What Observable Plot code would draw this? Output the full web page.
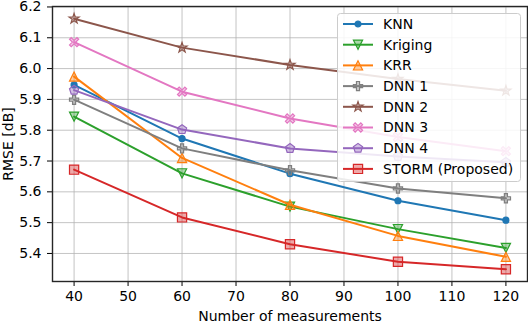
<!DOCTYPE html>
<html><head><meta charset="utf-8">
<script src="https://cdn.jsdelivr.net/npm/d3@7"></script>
<script src="https://cdn.jsdelivr.net/npm/@observablehq/plot@0.6"></script>
<style>body{margin:0;background:#fff} svg{display:block}</style>
</head><body><div id="chart"></div>
<script>
const measurements = [40, 60, 80, 100, 120];
const seriesNames = ["KNN","Kriging","KRR","DNN 1","DNN 2","DNN 3","DNN 4","STORM (Proposed)"];
const knn     = [5.947, 5.773, 5.659, 5.571, 5.508];
const kriging = [5.844, 5.660, 5.552, 5.479, 5.418];
const krr     = [5.974, 5.710, 5.558, 5.457, 5.389];
const dnn1    = [5.899, 5.741, 5.670, 5.611, 5.579];
const dnn2    = [6.162, 6.068, 6.012, 5.966, 5.928];
const dnn3    = [6.086, 5.925, 5.838, 5.778, 5.732];
const dnn4    = [5.930, 5.802, 5.741, 5.715, 5.696];
const storm   = [5.672, 5.517, 5.430, 5.373, 5.349];
const xTicks = [40,50,60,70,80,90,100,110,120];
const yTicks = [5.4,5.5,5.6,5.7,5.8,5.9,6.0,6.1,6.2];
const colors = ["#1f77b4","#2ca02c","#ff7f0e","#7f7f7f","#8c564b","#e377c2","#9467bd","#d62728"];
const values = [knn, kriging, krr, dnn1, dnn2, dnn3, dnn4, storm];

function poly(pts){
  return { draw(ctx, size){
    const h = Math.sqrt(size/Math.PI);
    pts.forEach(([x,y],i)=> i ? ctx.lineTo(x*h,y*h) : ctx.moveTo(x*h,y*h));
    ctx.closePath();
  }};
}
const t = 1/3;
const plusPts = [[-t,-1],[t,-1],[t,-t],[1,-t],[1,t],[t,t],[t,1],[-t,1],[-t,t],[-1,t],[-1,-t],[-t,-t]];
const rot = (pts, a, s) => pts.map(([x,y]) => [s*(x*Math.cos(a)-y*Math.sin(a)), s*(x*Math.sin(a)+y*Math.cos(a))]);
const starPts = d3.range(10).map(i => { const r = i%2 ? 0.45 : 1.15; const a = -Math.PI/2 + i*Math.PI/5; return [r*Math.cos(a), r*Math.sin(a)]; });
const pentPts = d3.range(5).map(i => { const a = -Math.PI/2 + i*2*Math.PI/5; return [1.05*Math.cos(a), 1.05*Math.sin(a)]; });
const xPts = rot([[-0.28,-1.2],[0.28,-1.2],[0.28,-0.28],[1.2,-0.28],[1.2,0.28],[0.28,0.28],[0.28,1.2],[-0.28,1.2],[-0.28,0.28],[-1.2,0.28],[-1.2,-0.28],[-0.28,-0.28]], Math.PI/4, 0.95);
const symbols = [
  d3.symbolCircle,
  poly([[0,1],[-1,-1],[1,-1]]),
  poly([[0,-1],[-1,1],[1,1]]),
  poly(plusPts),
  poly(starPts),
  poly(xPts),
  poly(pentPts),
  poly([[-1,-1],[1,-1],[1,1],[-1,1]])
];
const radii = [3, 4.6, 4.6, 4.6, 4.6, 4.6, 4.6, 4.6];

const marks = [
  Plot.gridX(xTicks, {stroke:"#b0b0b0", strokeOpacity:0.75, strokeWidth:1}),
  Plot.gridY(yTicks, {stroke:"#b0b0b0", strokeOpacity:0.75, strokeWidth:1}),
  Plot.axisX({ticks: xTicks, tickSize:5, tickPadding:5, label:"Number of measurements", labelAnchor:"center", labelArrow:"none", labelOffset:39}),
  Plot.axisY({ticks: yTicks, tickSize:5, tickPadding:6, tickFormat: d3.format(".1f"), label:"RMSE [dB]", labelAnchor:"center", labelArrow:"none", labelOffset:49})
];
values.forEach((vals, i) => {
  const data = measurements.map((m, j) => ({x: m, y: vals[j]}));
  marks.push(Plot.line(data, {x:"x", y:"y", stroke: colors[i], strokeWidth: 2}));
  marks.push(Plot.dot(data, {x:"x", y:"y", symbol: symbols[i], r: radii[i], stroke: colors[i], fill: colors[i], fillOpacity: i === 0 ? 1 : 0.4, strokeWidth: 1.2}));
});
marks.push(Plot.frame({stroke:"#262626", strokeWidth:1.4}));

const chart = Plot.plot({
  width: 528, height: 322,
  marginLeft: 52, marginRight: 1, marginTop: 6, marginBottom: 41,
  style: {fontFamily: "DejaVu Sans", fontSize: "14px", color: "#000", background: "#fff"},
  x: {domain: [36, 124]},
  y: {domain: [5.309, 6.2015]},
  marks
});
document.getElementById("chart").appendChild(chart);

// legend inside the plot area (upper right)
const svg = d3.select(chart);
const lg = svg.append("g").attr("font-family","DejaVu Sans").attr("font-size","14px").attr("text-anchor","start");
lg.append("rect").attr("x",337.5).attr("y",13.5).attr("width",183).attr("height",168).attr("rx",3)
  .attr("fill","#fff").attr("fill-opacity",0.85).attr("stroke","#cccccc").attr("stroke-width",1);
seriesNames.forEach((name, i) => {
  const y = 24 + i*20.7;
  const g = lg.append("g").attr("transform", `translate(0,${y})`);
  g.append("line").attr("x1",343).attr("x2",373).attr("y1",0).attr("y2",0).attr("stroke",colors[i]).attr("stroke-width",2);
  g.append("path").attr("transform","translate(358,0)")
    .attr("d", d3.symbol(symbols[i], Math.PI*radii[i]*radii[i])())
    .attr("fill", colors[i]).attr("fill-opacity", i === 0 ? 1 : 0.4).attr("stroke", colors[i]).attr("stroke-width",1.2);
  g.append("text").attr("x",383).attr("y",0).attr("dy","0.35em").attr("fill","#000").attr("text-anchor","start").text(name);
});
</script></body></html>
